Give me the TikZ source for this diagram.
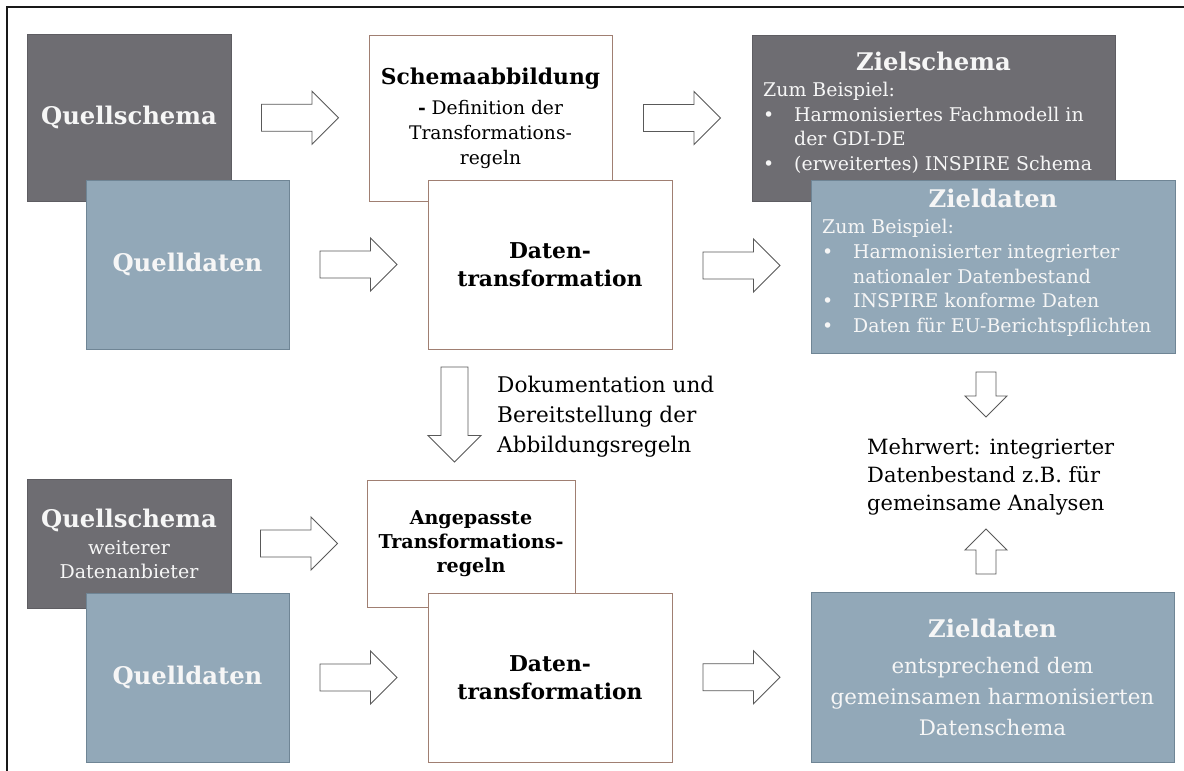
\documentclass[tikz,border=0pt]{standalone}
\usepackage{fontspec}
\setmainfont{DejaVu Serif}
\usetikzlibrary{calc}
\definecolor{schemagrau}{HTML}{6E6D72}
\definecolor{schemarand}{HTML}{5E5D62}
\definecolor{datenblau}{HTML}{92A8B8}
\definecolor{datenrand}{HTML}{6F8595}
\definecolor{regelrand}{HTML}{A07F72}
\definecolor{pfeilgrau}{HTML}{595959}
\definecolor{textweiss}{HTML}{F6F6F6}
\tikzset{
  schemabox/.style={draw=schemarand, fill=schemagrau, line width=1pt, text=textweiss, align=center},
  datenbox/.style={draw=datenrand, fill=datenblau, line width=1pt, text=textweiss, align=center},
  regelbox/.style={draw=regelrand, fill=white, line width=1pt, align=center},
  pfeilrand/.style={draw=pfeilgrau, fill=white, line width=0.9pt},
  fliesstext/.style={inner sep=0pt, align=left, anchor=north west},
}
\newcommand{\fettgross}{\fontsize{24.3}{32}\selectfont\bfseries}
\newcommand{\fettmittel}{\fontsize{21.8}{28}\selectfont\bfseries}
\newcommand{\fettklein}{\fontsize{19.1}{24}\selectfont\bfseries}
\newcommand{\grundtext}{\fontsize{18.7}{25}\selectfont}
\newcommand{\punkt}{\makebox[31pt][l]{\textbullet}}
\newcommand{\einzug}{\hspace*{31pt}}
% Blockpfeil: Mitte, Winkel, Laenge, halbe Schaftbreite, halbe Kopfbreite
\newcommand{\blockpfeil}[5]{%
  \begin{scope}[shift={#1}, rotate=#2]
    \draw[pfeilrand] (-#3/2,-#4) -- (#3/2-#5,-#4) -- (#3/2-#5,-#5) -- (#3/2,0)
      -- (#3/2-#5,#5) -- (#3/2-#5,#4) -- (-#3/2,#4) -- cycle;
  \end{scope}}

\begin{document}
\begin{tikzpicture}[x=1pt, y=-1pt]
  \useasboundingbox (0,0) rectangle (1184,771);
  \draw[line width=2pt, black!90] (7,771) -- (7,7) -- (1184,7);

  % obere Reihe
  \node[schemabox, minimum width=204, minimum height=167, font=\fettgross] (qs1) at (129,117.5) {Quellschema};
  \node[datenbox, minimum width=203, minimum height=169, font=\fettgross] (qd1) at (187.5,264.5) {Quelldaten};
  \node[regelbox, minimum width=243, minimum height=166, font=\grundtext] (sa1) at (490.5,118)
    {{\fettmittel Schemaabbildung}\\[5pt]\textbf{-} Definition der\\Transformations-\\regeln};
  \node[regelbox, minimum width=244, minimum height=169, font=\fettmittel] (dt1) at (550,264.5) {Daten-\\transformation};
  \node[schemabox, minimum width=363, minimum height=166] (zs1) at (933.5,118) {};
  \node[anchor=base, inner sep=0pt, text=textweiss, font=\fettgross] (zs1titel) at (933.5,70) {Zielschema};
  \node[fliesstext, text=textweiss, font={\fontsize{18.9}{24.5}\selectfont}] (zs1liste) at (763,82.2)
    {Zum Beispiel:\\\punkt Harmonisiertes Fachmodell in\\\einzug der GDI-DE\\\punkt (erweitertes) INSPIRE Schema};
  \node[datenbox, minimum width=364, minimum height=173] (zd1) at (993,266.5) {};
  \node[anchor=base, inner sep=0pt, text=textweiss, font=\fettgross] (zd1titel) at (993,207) {Zieldaten};
  \node[fliesstext, text=textweiss, font={\fontsize{18.9}{24.7}\selectfont}] (zd1liste) at (822,219.2)
    {Zum Beispiel:\\\punkt Harmonisierter integrierter\\\einzug nationaler Datenbestand\\\punkt INSPIRE konforme Daten\\\punkt Daten für EU-Berichtspflichten};

  % Mitte
  \node[fliesstext, font={\fontsize{21.6}{30}\selectfont}] (doku) at (497,376)
    {Dokumentation und\\Bereitstellung der\\Abbildungsregeln};
  \node[fliesstext, font={\fontsize{21}{28}\selectfont}] (mehrwert) at (867,438)
    {Mehrwert: integrierter\\Datenbestand z.B. für\\gemeinsame Analysen};

  % untere Reihe
  \node[schemabox, minimum width=204, minimum height=129, font={\fontsize{19}{24}\selectfont}] (qs2) at (129,543.5)
    {{\fettgross Quellschema}\\[3pt]weiterer\\Datenanbieter};
  \node[datenbox, minimum width=203, minimum height=169, font=\fettgross] (qd2) at (187.5,677.5) {Quelldaten};
  \node[regelbox, minimum width=208, minimum height=127, font=\fettklein] (ar2) at (471,543.5)
    {Angepasste\\Transformations-\\regeln};
  \node[regelbox, minimum width=244, minimum height=169, font=\fettmittel] (dt2) at (550,677.5) {Daten-\\transformation};
  \node[datenbox, minimum width=363, minimum height=170, font={\fontsize{21.4}{31}\selectfont}] (zd2) at (992.5,677)
    {{\fettgross Zieldaten}\\[5pt]entsprechend dem\\gemeinsamen harmonisierten\\Datenschema};

  % Pfeile
  \foreach \von/\nach in {qs1/sa1, qd1/dt1, sa1/zs1, dt1/zd1, qs2/ar2, qd2/dt2, dt2/zd2}
    \blockpfeil{($(\von.east)!0.5!(\nach.west)$)}{0}{77}{13.5}{26.5};
  \blockpfeil{(454.5,414.5)}{-90}{95}{13.5}{26.5}
  \blockpfeil{(986,394.5)}{-90}{45}{10}{21}
  \blockpfeil{(986,551.5)}{90}{45}{10}{21}
\end{tikzpicture}
\end{document}
